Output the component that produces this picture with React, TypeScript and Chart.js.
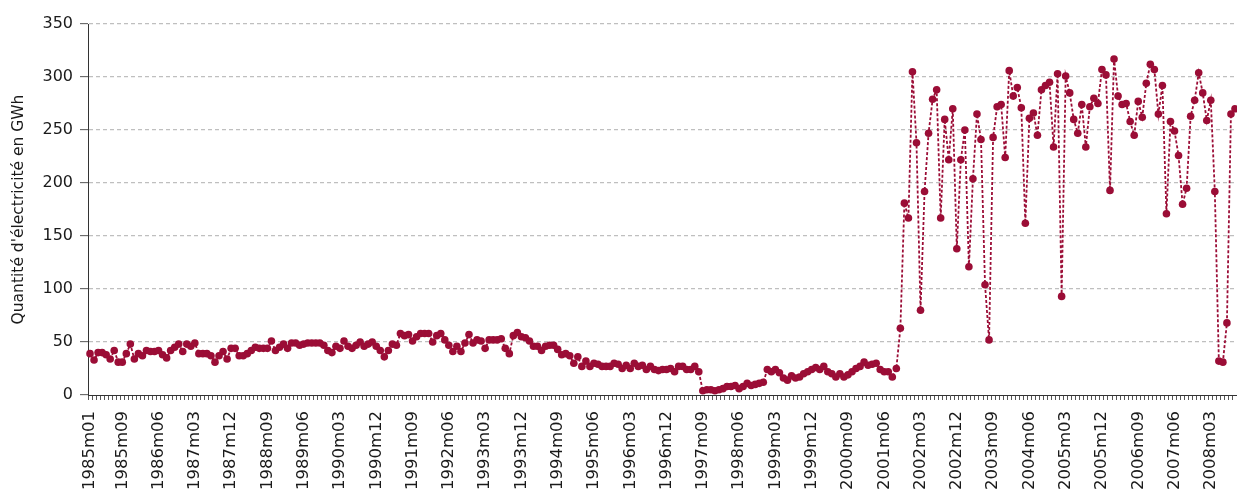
import React, { useEffect, useRef } from 'react';
import { Chart, registerables } from 'chart.js';

Chart.register(...registerables);

// Monthly values (GWh)
const v1985 = [39, 33, 40, 40, 38, 34, 42, 31, 31, 39, 48, 34];
const v1986 = [39, 37, 42, 41, 41, 42, 38, 35, 42, 45, 48, 41];
const v1987 = [48, 46, 49, 39, 39, 39, 37, 31, 37, 41, 34, 44];
const v1988 = [44, 37, 37, 39, 42, 45, 44, 44, 44, 51, 42, 45];
const v1989 = [48, 44, 49, 49, 47, 48, 49, 49, 49, 49, 47, 42];
const v1990 = [40, 46, 44, 51, 46, 44, 47, 50, 46, 48, 50, 46];
const v1991 = [42, 36, 42, 48, 47, 58, 56, 57, 51, 55, 58, 58];
const v1992 = [58, 50, 56, 58, 52, 47, 41, 46, 41, 49, 57, 49];
const v1993 = [52, 51, 44, 52, 52, 52, 53, 44, 39, 56, 59, 55];
const v1994 = [54, 51, 46, 46, 42, 46, 47, 47, 43, 38, 39, 37];
const v1995 = [30, 36, 27, 32, 27, 30, 29, 27, 27, 27, 30, 29];
const v1996 = [25, 28, 25, 30, 27, 28, 24, 27, 24, 23, 24, 24];
const v1997 = [25, 22, 27, 27, 24, 24, 27, 22, 4, 5, 5, 4];
const v1998 = [5, 6, 8, 8, 9, 6, 8, 11, 9, 10, 11, 12];
const v1999 = [24, 22, 24, 21, 16, 14, 18, 16, 17, 20, 22, 24];
const v2000 = [26, 24, 27, 22, 20, 17, 20, 17, 19, 22, 25, 27];
const v2001 = [31, 28, 29, 30, 24, 22, 22, 17, 25, 63, 181, 167];
const v2002 = [305, 238, 80, 192, 247, 279, 288, 167, 260, 222, 270, 138];
const v2003 = [222, 250, 121, 204, 265, 241, 104, 52, 243, 272, 274, 224];
const v2004 = [306, 282, 290, 271, 162, 261, 266, 245, 288, 292, 295, 234];
const v2005 = [303, 93, 301, 285, 260, 247, 274, 234, 272, 280, 275, 307];
const v2006 = [302, 193, 317, 282, 274, 275, 258, 245, 277, 262, 294, 312];
const v2007 = [307, 265, 292, 171, 258, 249, 226, 180, 195, 263, 278, 304];
const v2008 = [285, 259, 278, 192, 32, 31, 68, 265, 270];

const values: number[] = [
  ...v1985, ...v1986, ...v1987, ...v1988, ...v1989, ...v1990, ...v1991, ...v1992,
  ...v1993, ...v1994, ...v1995, ...v1996, ...v1997, ...v1998, ...v1999, ...v2000,
  ...v2001, ...v2002, ...v2003, ...v2004, ...v2005, ...v2006, ...v2007, ...v2008,
];

// Monthly categories 1985m01 ... (one per value)
const categories: string[] = [];
for (let y = 1985; y <= 2008; y++) {
  for (let m = 1; m <= 12; m++) {
    if (categories.length < values.length) categories.push(`${y}m${String(m).padStart(2, '0')}`);
  }
}

// Tick labels shown on the x axis
const tickLabels = [
  '1985m01', '1985m09', '1986m06', '1987m03', '1987m12', '1988m09', '1989m06', '1990m03',
  '1990m12', '1991m09', '1992m06', '1993m03', '1993m12', '1994m09', '1995m06', '1996m03',
  '1996m12', '1997m09', '1998m06', '1999m03', '1999m12', '2000m09', '2001m06', '2002m03',
  '2002m12', '2003m09', '2004m06', '2005m03', '2005m12', '2006m09', '2007m06', '2008m03',
];

const yMin = 0;
const yMax = 350;
const yStep = 50;
const yTitle = "Quantité d'électricité en GWh";

const RED = '#9b0d36';
const FONT = "'DejaVu Sans', 'Open Sans', sans-serif";

export default function App() {
  const ref = useRef<HTMLCanvasElement>(null);

  useEffect(() => {
    const shown = new Set(tickLabels);
    const chart = new Chart(ref.current as HTMLCanvasElement, {
      type: 'line',
      data: {
        labels: categories,
        datasets: [
          {
            data: values,
            borderColor: RED,
            backgroundColor: RED,
            borderWidth: 1.8,
            borderDash: [3, 2],
            pointRadius: 3.8,
            pointBackgroundColor: RED,
            pointBorderWidth: 0,
            pointHoverRadius: 3.8,
            tension: 0,
            fill: false,
          },
        ],
      },
      options: {
        animation: false,
        responsive: false,
        devicePixelRatio: 1,
        layout: { autoPadding: false, padding: { top: 24, right: 0, bottom: 0, left: 0 } },
        plugins: { legend: { display: false }, tooltip: { enabled: false } },
        scales: {
          x: {
            type: 'category',
            offset: true,
            grid: {
              offset: true,
              drawOnChartArea: false,
              drawTicks: true,
              tickLength: 5,
              tickColor: '#555',
              tickWidth: 1,
            },
            border: { display: true, color: '#333', width: 1 },
            ticks: {
              autoSkip: false,
              maxRotation: 90,
              minRotation: 90,
              padding: 11,
              color: '#1a1a1a',
              font: { family: FONT, size: 16.5 },
              callback: (_v: any, i: number) => (shown.has(categories[i]) ? categories[i] : ''),
            },
            afterFit: (s: any) => {
              s.height = 94;
              s.paddingLeft = 0;
              s.paddingRight = 0;
            },
          },
          y: {
            min: yMin,
            max: yMax,
            ticks: {
              stepSize: yStep,
              padding: 7,
              color: '#1a1a1a',
              font: { family: FONT, size: 16 },
            },
            grid: {
              color: (c: any) => (c.tick && c.tick.value === 0 ? 'rgba(0,0,0,0)' : '#bfbfbf'),
              lineWidth: 1.3,
              drawTicks: true,
              tickLength: 8,
              tickColor: '#555',
              tickWidth: 1,
            },
            border: { display: true, color: '#333', width: 1, dash: [4, 3] },
            title: {
              display: true,
              text: yTitle,
              color: '#1a1a1a',
              font: { family: FONT, size: 15.5 },
              padding: { top: 10, bottom: 0 },
            },
            afterFit: (s: any) => {
              s.width = 88;
            },
          },
        },
      },
    } as any);
    return () => chart.destroy();
  }, []);

  return (
    <canvas
      ref={ref}
      width={1237}
      height={489}
      style={{ position: 'absolute', left: 0, top: 0, width: 1237, height: 489, display: 'block' }}
    />
  );
}
